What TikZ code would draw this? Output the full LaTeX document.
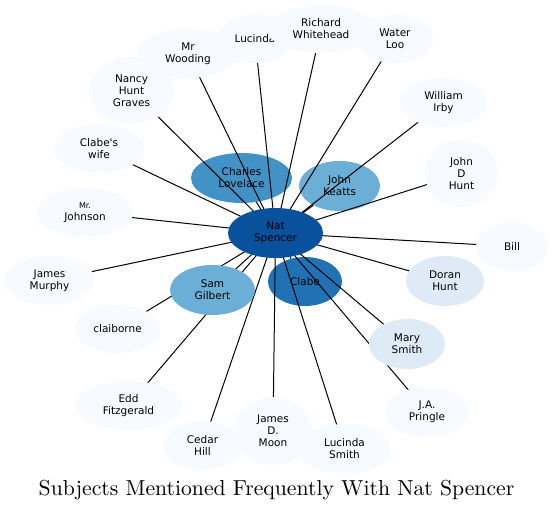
\documentclass[tikz,border=0pt]{standalone}
\usepackage{fontspec}
\newfontfamily\dvs{DejaVu Sans}
\newfontfamily\titlefont{lmroman10-regular.otf}
\usetikzlibrary{shapes.geometric}
\definecolor{bNat}{HTML}{08519C}
\definecolor{bMid}{HTML}{2171B5}
\definecolor{bMed}{HTML}{4292C6}
\definecolor{bLt}{HTML}{6BAED6}
\definecolor{bPale}{HTML}{DEEBF7}
\definecolor{bWhite}{HTML}{F7FBFF}
\begin{document}
\begin{tikzpicture}[x=1pt,y=-1pt,
  nd/.style={ellipse,inner sep=0pt,align=center,text=black,
    font=\dvs\fontsize{10.5}{12}\selectfont},
  pale/.style={nd,fill=bWhite},
  lightb/.style={nd,fill=bPale},
  link/.style={draw=black,line width=1pt}]
\useasboundingbox (0,0) rectangle (553,510);
% coloured nodes drawn beneath the connectors
\node[nd,fill=bMed,minimum width=101pt,minimum height=50pt] (charles) at (241.5,178) {Charles\\Lovelace};
\node[nd,fill=bLt,minimum width=81pt,minimum height=50pt] (keatts) at (339.5,186) {John\\Keatts};
\node[nd,fill=bMid,minimum width=74pt,minimum height=49pt] (clabe) at (305,281.5) {Clabe};
% centres of the other nodes
\path (275.5,233) coordinate (natc);
\path (212.5,290) coordinate (samc);
\path (445,281) coordinate (doranc);
\path (407,344) coordinate (maryc);
\path (512,246.5) coordinate (billc);
\path (427,412) coordinate (pringlec);
\path (344.5,449) coordinate (lucsmithc);
\path (273,431) coordinate (moonc);
\path (202.5,445.5) coordinate (cedarc);
\path (128.5,405.5) coordinate (eddc);
\path (117.5,329) coordinate (claibc);
\path (49.5,280.5) coordinate (murphyc);
\path (85,212.5) coordinate (johnsonc);
\path (99,148.5) coordinate (wifec);
\path (131.5,90.5) coordinate (nancyc);
\path (188,53.5) coordinate (woodingc);
\path (255,38.5) coordinate (lucindac);
\path (321,29) coordinate (richardc);
\path (395,39) coordinate (waterc);
\path (443.5,102.5) coordinate (irbyc);
\path (461.5,173.5) coordinate (jdhuntc);
% connectors
\foreach \t in {charles,keatts,clabe}
  \draw[link] (natc) -- (\t);
\foreach \t in {samc,doranc,maryc,billc,pringlec,lucsmithc,moonc,cedarc,eddc,claibc,murphyc,johnsonc,wifec,nancyc,woodingc,lucindac,richardc,waterc,irbyc,jdhuntc}
  \draw[link] (natc) -- (\t);
% nodes drawn over the connectors
\node[pale,minimum width=76pt,minimum height=49pt] (lucinda) at (lucindac) {Lucinda};
\node[pale,minimum width=108pt,minimum height=48pt] (richard) at (richardc) {Richard\\Whitehead};
\node[pale,minimum width=77pt,minimum height=48pt] (water) at (waterc) {Water\\Loo};
\node[pale,minimum width=100pt,minimum height=49pt] (wooding) at (woodingc) {Mr\\Wooding};
\node[pale,minimum width=85pt,minimum height=67pt] (nancy) at (nancyc) {Nancy\\Hunt\\Graves};
\node[pale,minimum width=90pt,minimum height=49pt] (wife) at (wifec) {Clabe's\\wife};
\node[pale,minimum width=96pt,minimum height=49pt] (johnson) at (johnsonc) {{\fontsize{8}{9}\selectfont Mr.}\\Johnson};
\node[pale,minimum width=91pt,minimum height=49pt] (murphy) at (murphyc) {James\\Murphy};
\node[pale,minimum width=85pt,minimum height=48pt] (claib) at (claibc) {claiborne};
\node[pale,minimum width=107pt,minimum height=49pt] (edd) at (eddc) {Edd\\Fitzgerald};
\node[pale,minimum width=79pt,minimum height=49pt] (cedar) at (cedarc) {Cedar\\Hill};
\node[pale,minimum width=78pt,minimum height=68pt] (moon) at (moonc) {James\\D.\\Moon};
\node[pale,minimum width=93pt,minimum height=50pt] (lucsmith) at (lucsmithc) {Lucinda\\Smith};
\node[pale,minimum width=84pt,minimum height=50pt] (pringle) at (pringlec) {J.A.\\Pringle};
\node[lightb,minimum width=76pt,minimum height=50pt] (mary) at (maryc) {Mary\\Smith};
\node[lightb,minimum width=78pt,minimum height=50pt] (doran) at (doranc) {Doran\\Hunt};
\node[pale,minimum width=72pt,minimum height=49pt] (bill) at (billc) {Bill};
\node[pale,minimum width=87pt,minimum height=49pt] (irby) at (irbyc) {William\\Irby};
\node[pale,minimum width=73pt,minimum height=67pt] (jdhunt) at (jdhuntc) {John\\D\\Hunt};
\node[nd,fill=bLt,minimum width=85pt,minimum height=50pt] (sam) at (samc) {Sam\\Gilbert};
\node[nd,fill=bNat,minimum width=95pt,minimum height=50pt] (nat) at (natc) {Nat\\Spencer};
\node[anchor=base,inner sep=0pt,font=\titlefont\fontsize{21.7}{24}\selectfont] (title) at (276.5,495) {Subjects Mentioned Frequently With Nat Spencer};
\end{tikzpicture}
\end{document}
